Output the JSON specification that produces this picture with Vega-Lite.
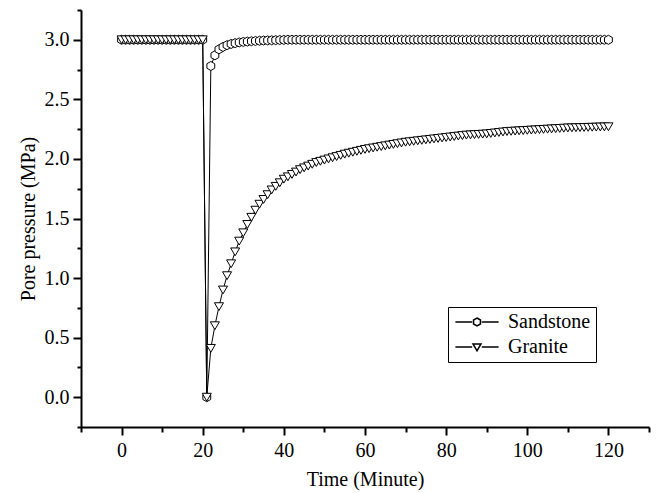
{
  "$schema": "https://vega.github.io/schema/vega-lite/v6.json",
  "width": 568,
  "height": 417,
  "autosize": {"type": "none"},
  "padding": {"left": 81, "top": 10, "right": 10, "bottom": 66},
  "background": "white",
  "config": {
    "view": {"stroke": null},
    "axis": {
      "labelFont": "Liberation Serif",
      "titleFont": "Liberation Serif",
      "labelFontSize": 20,
      "titleFontSize": 20,
      "titleFontWeight": "normal",
      "labelColor": "black",
      "titleColor": "black",
      "domainColor": "black",
      "tickColor": "black",
      "domainWidth": 2,
      "tickWidth": 2,
      "grid": false,
      "labelPadding": 4
    },
    "legend": {
      "labelFont": "Liberation Serif",
      "labelFontSize": 20,
      "labelColor": "black"
    }
  },
  "data": {
    "values": [
      {"s":"Sandstone","t":0,"p":3},{"s":"Sandstone","t":1,"p":3},{"s":"Sandstone","t":2,"p":3},{"s":"Sandstone","t":3,"p":3},{"s":"Sandstone","t":4,"p":3},{"s":"Sandstone","t":5,"p":3},{"s":"Sandstone","t":6,"p":3},{"s":"Sandstone","t":7,"p":3},{"s":"Sandstone","t":8,"p":3},{"s":"Sandstone","t":9,"p":3},{"s":"Sandstone","t":10,"p":3},
      {"s":"Sandstone","t":11,"p":3},{"s":"Sandstone","t":12,"p":3},{"s":"Sandstone","t":13,"p":3},{"s":"Sandstone","t":14,"p":3},{"s":"Sandstone","t":15,"p":3},{"s":"Sandstone","t":16,"p":3},{"s":"Sandstone","t":17,"p":3},{"s":"Sandstone","t":18,"p":3},{"s":"Sandstone","t":19,"p":3},{"s":"Sandstone","t":20,"p":3},
      {"s":"Sandstone","t":21,"p":0},{"s":"Sandstone","t":22,"p":2.78},{"s":"Sandstone","t":23,"p":2.87},{"s":"Sandstone","t":24,"p":2.92},{"s":"Sandstone","t":25,"p":2.94},{"s":"Sandstone","t":26,"p":2.955},{"s":"Sandstone","t":27,"p":2.965},{"s":"Sandstone","t":28,"p":2.972},{"s":"Sandstone","t":29,"p":2.978},{"s":"Sandstone","t":30,"p":2.982},
      {"s":"Sandstone","t":31,"p":2.985},{"s":"Sandstone","t":32,"p":2.988},{"s":"Sandstone","t":33,"p":2.99},{"s":"Sandstone","t":34,"p":2.992},{"s":"Sandstone","t":35,"p":2.994},{"s":"Sandstone","t":36,"p":2.995},{"s":"Sandstone","t":37,"p":2.996},{"s":"Sandstone","t":38,"p":2.997},{"s":"Sandstone","t":39,"p":2.998},{"s":"Sandstone","t":40,"p":2.999},
      {"s":"Sandstone","t":41,"p":3},{"s":"Sandstone","t":42,"p":3},{"s":"Sandstone","t":43,"p":3},{"s":"Sandstone","t":44,"p":3},{"s":"Sandstone","t":45,"p":3},{"s":"Sandstone","t":46,"p":3},{"s":"Sandstone","t":47,"p":3},{"s":"Sandstone","t":48,"p":3},{"s":"Sandstone","t":49,"p":3},{"s":"Sandstone","t":50,"p":3},
      {"s":"Sandstone","t":51,"p":3},{"s":"Sandstone","t":52,"p":3},{"s":"Sandstone","t":53,"p":3},{"s":"Sandstone","t":54,"p":3},{"s":"Sandstone","t":55,"p":3},{"s":"Sandstone","t":56,"p":3},{"s":"Sandstone","t":57,"p":3},{"s":"Sandstone","t":58,"p":3},{"s":"Sandstone","t":59,"p":3},{"s":"Sandstone","t":60,"p":3},
      {"s":"Sandstone","t":61,"p":3},{"s":"Sandstone","t":62,"p":3},{"s":"Sandstone","t":63,"p":3},{"s":"Sandstone","t":64,"p":3},{"s":"Sandstone","t":65,"p":3},{"s":"Sandstone","t":66,"p":3},{"s":"Sandstone","t":67,"p":3},{"s":"Sandstone","t":68,"p":3},{"s":"Sandstone","t":69,"p":3},{"s":"Sandstone","t":70,"p":3},
      {"s":"Sandstone","t":71,"p":3},{"s":"Sandstone","t":72,"p":3},{"s":"Sandstone","t":73,"p":3},{"s":"Sandstone","t":74,"p":3},{"s":"Sandstone","t":75,"p":3},{"s":"Sandstone","t":76,"p":3},{"s":"Sandstone","t":77,"p":3},{"s":"Sandstone","t":78,"p":3},{"s":"Sandstone","t":79,"p":3},{"s":"Sandstone","t":80,"p":3},
      {"s":"Sandstone","t":81,"p":3},{"s":"Sandstone","t":82,"p":3},{"s":"Sandstone","t":83,"p":3},{"s":"Sandstone","t":84,"p":3},{"s":"Sandstone","t":85,"p":3},{"s":"Sandstone","t":86,"p":3},{"s":"Sandstone","t":87,"p":3},{"s":"Sandstone","t":88,"p":3},{"s":"Sandstone","t":89,"p":3},{"s":"Sandstone","t":90,"p":3},
      {"s":"Sandstone","t":91,"p":3},{"s":"Sandstone","t":92,"p":3},{"s":"Sandstone","t":93,"p":3},{"s":"Sandstone","t":94,"p":3},{"s":"Sandstone","t":95,"p":3},{"s":"Sandstone","t":96,"p":3},{"s":"Sandstone","t":97,"p":3},{"s":"Sandstone","t":98,"p":3},{"s":"Sandstone","t":99,"p":3},{"s":"Sandstone","t":100,"p":3},
      {"s":"Sandstone","t":101,"p":3},{"s":"Sandstone","t":102,"p":3},{"s":"Sandstone","t":103,"p":3},{"s":"Sandstone","t":104,"p":3},{"s":"Sandstone","t":105,"p":3},{"s":"Sandstone","t":106,"p":3},{"s":"Sandstone","t":107,"p":3},{"s":"Sandstone","t":108,"p":3},{"s":"Sandstone","t":109,"p":3},{"s":"Sandstone","t":110,"p":3},
      {"s":"Sandstone","t":111,"p":3},{"s":"Sandstone","t":112,"p":3},{"s":"Sandstone","t":113,"p":3},{"s":"Sandstone","t":114,"p":3},{"s":"Sandstone","t":115,"p":3},{"s":"Sandstone","t":116,"p":3},{"s":"Sandstone","t":117,"p":3},{"s":"Sandstone","t":118,"p":3},{"s":"Sandstone","t":119,"p":3},{"s":"Sandstone","t":120,"p":3},
      {"s":"Granite","t":0,"p":3},{"s":"Granite","t":1,"p":3},{"s":"Granite","t":2,"p":3},{"s":"Granite","t":3,"p":3},{"s":"Granite","t":4,"p":3},{"s":"Granite","t":5,"p":3},{"s":"Granite","t":6,"p":3},{"s":"Granite","t":7,"p":3},{"s":"Granite","t":8,"p":3},{"s":"Granite","t":9,"p":3},{"s":"Granite","t":10,"p":3},
      {"s":"Granite","t":11,"p":3},{"s":"Granite","t":12,"p":3},{"s":"Granite","t":13,"p":3},{"s":"Granite","t":14,"p":3},{"s":"Granite","t":15,"p":3},{"s":"Granite","t":16,"p":3},{"s":"Granite","t":17,"p":3},{"s":"Granite","t":18,"p":3},{"s":"Granite","t":19,"p":3},{"s":"Granite","t":20,"p":3},
      {"s":"Granite","t":21,"p":0},{"s":"Granite","t":22,"p":0.41},{"s":"Granite","t":23,"p":0.6},{"s":"Granite","t":24,"p":0.76},{"s":"Granite","t":25,"p":0.9},{"s":"Granite","t":26,"p":1.02},{"s":"Granite","t":27,"p":1.12},{"s":"Granite","t":28,"p":1.22},{"s":"Granite","t":29,"p":1.31},{"s":"Granite","t":30,"p":1.38},
      {"s":"Granite","t":31,"p":1.45},{"s":"Granite","t":32,"p":1.51},{"s":"Granite","t":33,"p":1.57},{"s":"Granite","t":34,"p":1.62},{"s":"Granite","t":35,"p":1.66},{"s":"Granite","t":36,"p":1.7},{"s":"Granite","t":37,"p":1.74},{"s":"Granite","t":38,"p":1.77},{"s":"Granite","t":39,"p":1.8},{"s":"Granite","t":40,"p":1.83},
      {"s":"Granite","t":41,"p":1.85},{"s":"Granite","t":42,"p":1.87},{"s":"Granite","t":43,"p":1.89},{"s":"Granite","t":44,"p":1.91},{"s":"Granite","t":45,"p":1.925},{"s":"Granite","t":46,"p":1.94},{"s":"Granite","t":47,"p":1.955},{"s":"Granite","t":48,"p":1.97},{"s":"Granite","t":49,"p":1.98},{"s":"Granite","t":50,"p":1.99},
      {"s":"Granite","t":51,"p":2.0},{"s":"Granite","t":52,"p":2.01},{"s":"Granite","t":53,"p":2.02},{"s":"Granite","t":54,"p":2.03},{"s":"Granite","t":55,"p":2.04},{"s":"Granite","t":56,"p":2.048},{"s":"Granite","t":57,"p":2.056},{"s":"Granite","t":58,"p":2.064},{"s":"Granite","t":59,"p":2.072},{"s":"Granite","t":60,"p":2.08},
      {"s":"Granite","t":61,"p":2.086},{"s":"Granite","t":62,"p":2.092},{"s":"Granite","t":63,"p":2.098},{"s":"Granite","t":64,"p":2.104},{"s":"Granite","t":65,"p":2.11},{"s":"Granite","t":66,"p":2.116},{"s":"Granite","t":67,"p":2.122},{"s":"Granite","t":68,"p":2.128},{"s":"Granite","t":69,"p":2.134},{"s":"Granite","t":70,"p":2.14},
      {"s":"Granite","t":71,"p":2.144},{"s":"Granite","t":72,"p":2.148},{"s":"Granite","t":73,"p":2.152},{"s":"Granite","t":74,"p":2.156},{"s":"Granite","t":75,"p":2.16},{"s":"Granite","t":76,"p":2.164},{"s":"Granite","t":77,"p":2.168},{"s":"Granite","t":78,"p":2.172},{"s":"Granite","t":79,"p":2.176},{"s":"Granite","t":80,"p":2.18},
      {"s":"Granite","t":81,"p":2.184},{"s":"Granite","t":82,"p":2.188},{"s":"Granite","t":83,"p":2.192},{"s":"Granite","t":84,"p":2.196},{"s":"Granite","t":85,"p":2.2},{"s":"Granite","t":86,"p":2.202},{"s":"Granite","t":87,"p":2.204},{"s":"Granite","t":88,"p":2.206},{"s":"Granite","t":89,"p":2.208},{"s":"Granite","t":90,"p":2.21},
      {"s":"Granite","t":91,"p":2.214},{"s":"Granite","t":92,"p":2.218},{"s":"Granite","t":93,"p":2.222},{"s":"Granite","t":94,"p":2.226},{"s":"Granite","t":95,"p":2.23},{"s":"Granite","t":96,"p":2.232},{"s":"Granite","t":97,"p":2.234},{"s":"Granite","t":98,"p":2.236},{"s":"Granite","t":99,"p":2.238},{"s":"Granite","t":100,"p":2.24},
      {"s":"Granite","t":101,"p":2.242},{"s":"Granite","t":102,"p":2.244},{"s":"Granite","t":103,"p":2.246},{"s":"Granite","t":104,"p":2.248},{"s":"Granite","t":105,"p":2.25},{"s":"Granite","t":106,"p":2.252},{"s":"Granite","t":107,"p":2.254},{"s":"Granite","t":108,"p":2.256},{"s":"Granite","t":109,"p":2.258},{"s":"Granite","t":110,"p":2.26},
      {"s":"Granite","t":111,"p":2.261},{"s":"Granite","t":112,"p":2.262},{"s":"Granite","t":113,"p":2.263},{"s":"Granite","t":114,"p":2.264},{"s":"Granite","t":115,"p":2.265},{"s":"Granite","t":116,"p":2.266},{"s":"Granite","t":117,"p":2.267},{"s":"Granite","t":118,"p":2.268},{"s":"Granite","t":119,"p":2.269},{"s":"Granite","t":120,"p":2.27}
    ]
  },
  "encoding": {
    "x": {
      "field": "t", "type": "quantitative",
      "scale": {"domain": [-10, 130], "nice": false, "zero": false},
      "axis": {
        "title": "Time (Minute)",
        "values": [-10, 0, 10, 20, 30, 40, 50, 60, 70, 80, 90, 100, 110, 120, 130],
        "labelExpr": "datum.value % 20 == 0 ? datum.value : ''",
        "tickSize": {"condition": {"test": "datum.value % 20 != 0", "value": 5}, "value": 8},
        "labelPadding": 5,
        "titlePadding": 9,
        "labelFlush": false,
        "labelOverlap": false
      }
    },
    "y": {
      "field": "p", "type": "quantitative",
      "scale": {"domain": [-0.25, 3.25], "nice": false, "zero": false},
      "axis": {
        "title": "Pore pressure (MPa)",
        "values": [-0.25, 0, 0.25, 0.5, 0.75, 1, 1.25, 1.5, 1.75, 2, 2.25, 2.5, 2.75, 3, 3.25],
        "labelExpr": "abs(datum.value * 2 - round(datum.value * 2)) < 0.001 ? format(datum.value, '.1f') : ''",
        "tickSize": {"condition": {"test": "abs(datum.value * 2 - round(datum.value * 2)) > 0.001", "value": 4}, "value": 8},
        "labelPadding": 4,
        "titlePadding": 6,
        "labelFlush": false,
        "labelOverlap": false
      }
    }
  },
  "layer": [
    {
      "mark": {"type": "line", "color": "black", "strokeWidth": 1},
      "encoding": {"detail": {"field": "s", "type": "nominal"}}
    },
    {
      "mark": {"type": "point", "filled": true, "size": 82},
      "encoding": {
        "fill": {"value": "white"},
        "stroke": {"value": "black"},
        "strokeWidth": {"value": 1},
        "opacity": {"value": 1},
        "shape": {
          "field": "s", "type": "nominal",
          "scale": {"domain": ["Sandstone", "Granite"], "range": ["M0,-1L0.866,-0.5L0.866,0.5L0,1L-0.866,0.5L-0.866,-0.5Z", "triangle-down"]},
          "legend": null
        }
      }
    },
    {
      "mark": {"type": "point", "filled": true, "size": 64},
      "encoding": {
        "fill": {"value": "white"},
        "stroke": {"value": "black"},
        "strokeWidth": {"value": 1},
        "opacity": {"value": 0},
        "shape": {
          "field": "s", "type": "nominal",
          "scale": {"domain": ["Sandstone", "Granite"], "range": ["M-5.4,0L-1.2,0M1.2,0L5.4,0M0,-1L0.866,-0.5L0.866,0.5L0,1L-0.866,0.5L-0.866,-0.5Z", "M-5.4,0L-1.2,0M1.2,0L5.4,0M-1,-0.75L1,-0.75L0,0.95Z"]},
          "legend": {
            "title": null,
            "orient": "none",
            "legendX": 367,
            "legendY": 297,
            "padding": 5,
            "rowPadding": 5,
            "strokeColor": "black",
            "fillColor": "white",
            "symbolSize": 64,
            "symbolOpacity": 1,
            "symbolOffset": 14,
            "labelOffset": 21
          }
        }
      }
    }
  ],
  "resolve": {"scale": {"shape": "independent"}, "legend": {"shape": "independent"}}
}
